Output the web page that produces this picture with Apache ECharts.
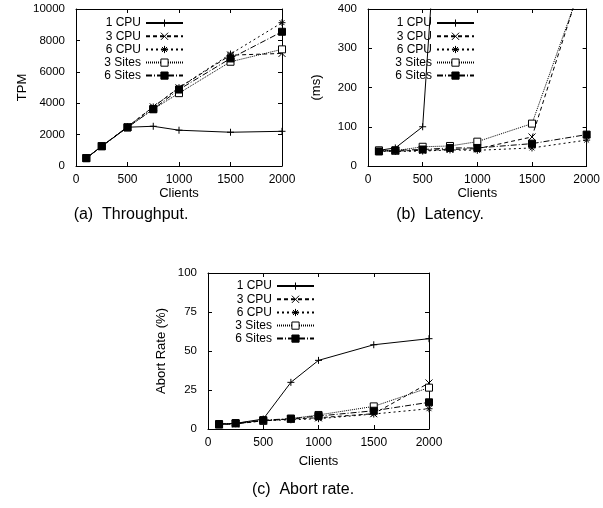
<!DOCTYPE html>
<html>
<head>
<meta charset="utf-8">
<script src="https://cdn.jsdelivr.net/npm/echarts@6/dist/echarts.min.js"></script>
<style>
html, body { margin: 0; padding: 0; background: #fff; }
#chart { width: 603px; height: 508px; }
</style>
</head>
<body>
<div id="chart"></div>
<script>
// x 轴：客户端数量
const clients = [100, 250, 500, 750, 1000, 1500, 2000]
const seriesNames = ['1 CPU', '3 CPU', '6 CPU', '3 Sites', '6 Sites']

// (a) 吞吐量 TPM
const tpm1Cpu = [490, 1260, 2470, 2530, 2280, 2150, 2210]
const tpm3Cpu = [500, 1270, 2500, 3770, 4980, 7060, 7170]
const tpm6Cpu = [500, 1270, 2500, 3760, 4990, 7130, 9130]
const tpm3Sites = [500, 1260, 2460, 3620, 4640, 6640, 7430]
const tpm6Sites = [500, 1260, 2460, 3620, 4870, 6850, 8550]

// (b) 延迟 ms（超出 400 的部分被裁掉）
const lat1Cpu = [40, 46, 100, 1130, 1500, 1800, 2000]
const lat3Cpu = [39, 38, 40, 42, 44, 74, 510]
const lat6Cpu = [38, 37, 38, 41, 40, 46, 66]
const lat3Sites = [40, 39, 49, 51, 62, 108, 500]
const lat6Sites = [37, 40, 42, 46, 46, 57, 80]

// (c) 中止率 %
const abort1Cpu = [3.2, 3.6, 6.4, 29.9, 44, 54, 57.9]
const abort3Cpu = [2.8, 3.2, 5.3, 6.4, 7.2, 9.8, 29.5]
const abort6Cpu = [3.0, 3.4, 5.3, 5.9, 6.6, 9.6, 13]
const abort3Sites = [2.8, 3.8, 5.2, 6.6, 9.0, 14.5, 26.5]
const abort6Sites = [3.2, 3.6, 5.7, 6.6, 8.3, 11.7, 17.1]

const font = 'Liberation Sans'

// 每条线的样式（gnuplot 风格）
const styles = [
  { symbol: 'path://M0,5L10,5M5,0L5,10', fill: 'none', dash: 'solid' },
  { symbol: 'path://M0,0L10,10M10,0L0,10', fill: 'none', dash: [4, 3] },
  { symbol: 'path://M0,5L10,5M5,0L5,10M1.5,1.5L8.5,8.5M8.5,1.5L1.5,8.5', fill: 'none', dash: [2, 3] },
  { symbol: 'rect', fill: '#fff', dash: [1, 1] },
  { symbol: 'rect', fill: '#000', dash: [6, 2, 1, 2] }
]

function makeSeries(idx, lists) {
  return lists.map((vals, i) => ({
    name: seriesNames[i],
    type: 'line',
    xAxisIndex: idx,
    yAxisIndex: idx,
    data: clients.map((c, k) => [c, vals[k]]),
    symbol: styles[i].symbol,
    symbolSize: 7,
    clip: true,
    animation: false,
    lineStyle: { color: '#000', width: 1, type: styles[i].dash },
    itemStyle: { color: styles[i].fill, borderColor: '#000', borderWidth: 1 }
  }))
}

const plainLabel = v => String(v)

function xAxes(idx, gap) {
  return [
    {
      type: 'value', gridIndex: idx, min: 0, max: 2000, interval: 500,
      name: 'Clients', nameLocation: 'middle', nameGap: gap,
      nameTextStyle: { color: '#000', fontFamily: font, fontSize: 13 },
      axisLine: { onZero: false, lineStyle: { color: '#000', width: 1 } },
      axisTick: { inside: true, length: 4, lineStyle: { color: '#000' } },
      axisLabel: { color: '#000', fontFamily: font, fontSize: 12, margin: 8, formatter: plainLabel },
      splitLine: { show: false }
    },
    {
      type: 'value', gridIndex: idx, min: 0, max: 2000, interval: 500, position: 'top',
      axisLine: { onZero: false, lineStyle: { color: '#000', width: 1 } },
      axisTick: { inside: true, length: 4, lineStyle: { color: '#000' } },
      axisLabel: { show: false },
      splitLine: { show: false }
    }
  ]
}

function yAxes(idx, max, interval, name, gap) {
  return [
    {
      type: 'value', gridIndex: idx, min: 0, max: max, interval: interval,
      name: name, nameLocation: 'middle', nameGap: gap,
      nameTextStyle: { color: '#000', fontFamily: font, fontSize: 13 },
      axisLine: { show: true, onZero: false, lineStyle: { color: '#000', width: 1 } },
      axisTick: { show: true, inside: true, length: 4, lineStyle: { color: '#000' } },
      axisLabel: { color: '#000', fontFamily: font, fontSize: 11.5, margin: 11, formatter: plainLabel },
      splitLine: { show: false }
    },
    {
      type: 'value', gridIndex: idx, min: 0, max: max, interval: interval, position: 'right',
      axisLine: { show: true, onZero: false, lineStyle: { color: '#000', width: 1 } },
      axisTick: { show: true, inside: true, length: 4, lineStyle: { color: '#000' } },
      axisLabel: { show: false },
      splitLine: { show: false }
    }
  ]
}

function legend(right, top) {
  return {
    data: seriesNames,
    orient: 'vertical',
    align: 'right',
    right: right,
    top: top,
    padding: 0,
    itemWidth: 37,
    itemHeight: 9,
    itemGap: 1,
    selectedMode: false,
    itemStyle: { borderWidth: 1 },
    textStyle: { color: '#000', fontFamily: font, fontSize: 12, lineHeight: 12 }
  }
}

const myCharts = echarts.init(document.getElementById('chart'))

const gridList = [
  { left: 76, top: 9, width: 206, height: 157 },
  { left: 368, top: 9, width: 221, height: 157 },
  { left: 208, top: 273, width: 221, height: 156 }
]

// 主轴 index 0/2/4 用于数据，副轴只画镜像刻度
const xAxisList = [...xAxes(0, 20), ...xAxes(1, 20), ...xAxes(2, 26)]
const yAxisList = [
  ...yAxes(0, 10000, 2000, 'TPM', 38),
  ...yAxes(1, 400, 100, '(ms)', 45),
  ...yAxes(2, 100, 25, 'Abort Rate (%)', 40)
]

const series = [
  ...makeSeries(0, [tpm1Cpu, tpm3Cpu, tpm6Cpu, tpm3Sites, tpm6Sites]),
  ...makeSeries(2, [lat1Cpu, lat3Cpu, lat6Cpu, lat3Sites, lat6Sites]),
  ...makeSeries(4, [abort1Cpu, abort3Cpu, abort6Cpu, abort3Sites, abort6Sites])
]

const captionStyle = { fill: '#000', font: '16px "Liberation Sans"', textAlign: 'center', textVerticalAlign: 'middle' }

const option = {
  backgroundColor: '#fff',
  grid: gridList,
  xAxis: xAxisList,
  yAxis: yAxisList,
  legend: [legend(419, 17), legend(128, 17), legend(288, 280)],
  series: series,
  graphic: [
    { type: 'text', x: 131, y: 215, style: Object.assign({ text: '(a)  Throughput.' }, captionStyle) },
    { type: 'text', x: 440, y: 215, style: Object.assign({ text: '(b)  Latency.' }, captionStyle) },
    { type: 'text', x: 303, y: 490, style: Object.assign({ text: '(c)  Abort rate.' }, captionStyle) }
  ]
}
myCharts.setOption(option)
</script>
</body>
</html>
